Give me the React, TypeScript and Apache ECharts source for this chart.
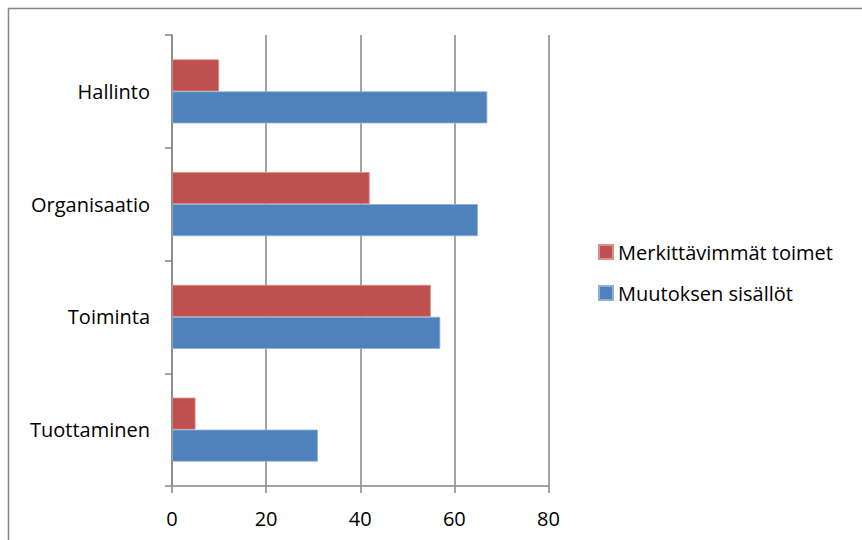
import React, { useEffect, useRef } from "react";
import * as echarts from "echarts";

// Categories listed bottom-to-top as they appear on the value chart
const categories = ["Tuottaminen", "Toiminta", "Organisaatio", "Hallinto"];
const muutoksenSisallot = [31, 57, 65, 67];
const merkittavimmatToimet = [5, 55, 42, 10];
const valueTicks = [0, 20, 40, 60, 80];

const FONT = "'Open Sans', Lato, sans-serif";
const FONT_SIZE = 20;
const AXIS_GREY = "#868686";

export default function App() {
  const ref = useRef<HTMLDivElement>(null);

  useEffect(() => {
    if (!ref.current) return;
    const chart = echarts.init(ref.current, undefined, { renderer: "svg" });
    chart.setOption({
      animation: false,
      backgroundColor: "#ffffff",
      textStyle: { fontFamily: FONT, color: "#000" },
      graphic: [
        {
          type: "rect",
          shape: { x: 8.5, y: 8.5, width: 900, height: 600 },
          style: { fill: "none", stroke: AXIS_GREY, lineWidth: 1.5 },
          silent: true,
        },
      ],
      grid: { left: 172, right: 313.5, top: 35, bottom: 54, containLabel: false },
      legend: {
        orient: "vertical",
        left: 593,
        top: 237,
        itemWidth: 14,
        itemHeight: 14,
        itemGap: 21,
        icon: "rect",
        data: ["Merkittävimmät toimet", "Muutoksen sisällöt"],
        textStyle: { fontFamily: FONT, fontSize: FONT_SIZE, color: "#000" },
      },
      xAxis: {
        type: "value",
        min: valueTicks[0],
        max: valueTicks[valueTicks.length - 1],
        interval: valueTicks[1] - valueTicks[0],
        axisLine: { show: true, lineStyle: { color: AXIS_GREY, width: 1.5 } },
        axisTick: { show: true, length: 7, lineStyle: { color: AXIS_GREY, width: 1.5 } },
        axisLabel: { fontFamily: FONT, fontSize: FONT_SIZE, color: "#000", margin: 22 },
        splitLine: { show: true, lineStyle: { color: AXIS_GREY, width: 1.5 } },
      },
      yAxis: {
        type: "category",
        data: categories,
        axisLine: { show: true, lineStyle: { color: AXIS_GREY, width: 1.5 } },
        axisTick: { show: true, length: 7, lineStyle: { color: AXIS_GREY, width: 1.5 } },
        axisLabel: { fontFamily: FONT, fontSize: FONT_SIZE, color: "#000", margin: 22 },
        splitLine: { show: false },
      },
      series: [
        {
          name: "Merkittävimmät toimet",
          type: "bar",
          data: merkittavimmatToimet,
          barWidth: 32,
          barGap: "0%",
          itemStyle: { color: "#C0504D", borderColor: "#d9908e", borderWidth: 0.8 },
        },
        {
          name: "Muutoksen sisällöt",
          type: "bar",
          data: muutoksenSisallot,
          barWidth: 32,
          barGap: "0%",
          itemStyle: { color: "#4F81BD", borderColor: "#8fb0d8", borderWidth: 0.8 },
        },
      ],
    });
    return () => chart.dispose();
  }, []);

  return (
    <div
      ref={ref}
      style={{ position: "fixed", left: 0, top: 0, width: 862, height: 540, overflow: "hidden" }}
    />
  );
}
